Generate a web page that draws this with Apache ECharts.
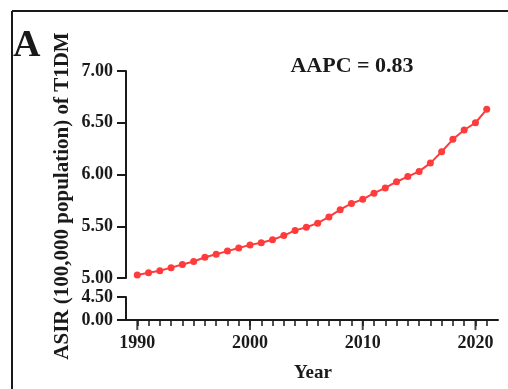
<!DOCTYPE html>
<html>
<head>
<meta charset="utf-8">
<script src="https://cdn.jsdelivr.net/npm/echarts@6/dist/echarts.min.js"></script>
<style>
  html, body { margin: 0; padding: 0; background: #fff; }
  #chart { width: 508px; height: 389px; }
</style>
</head>
<body>
<div id="chart"></div>
<script>
// Age-standardised incidence rate of T1DM, 1990–2021
const years = [1990, 1991, 1992, 1993, 1994, 1995, 1996, 1997, 1998, 1999,
               2000, 2001, 2002, 2003, 2004, 2005, 2006, 2007, 2008, 2009,
               2010, 2011, 2012, 2013, 2014, 2015, 2016, 2017, 2018, 2019,
               2020, 2021];
const asir = [5.03, 5.05, 5.07, 5.10, 5.13, 5.16, 5.20, 5.23, 5.26, 5.29,
              5.32, 5.34, 5.37, 5.41, 5.46, 5.49, 5.53, 5.59, 5.66, 5.72,
              5.76, 5.82, 5.87, 5.93, 5.98, 6.03, 6.11, 6.22, 6.34, 6.43,
              6.50, 6.63];
const decadeTicks = [1990, 2000, 2010, 2020];
const panelLabel = 'A';
const aapcText = 'AAPC = 0.83';
const yTitle = 'ASIR (100,000 population) of T1DM';
const xTitle = 'Year';

const serif = '"Liberation Serif", "Times New Roman", serif';
const ink = '#1a1a1a';
const red = '#ff3b3b';

const chart = echarts.init(document.getElementById('chart'), null, { renderer: 'canvas' });

const axisLineStyle = { show: true, lineStyle: { color: ink, width: 2 } };
const labelStyle = { color: ink, fontFamily: serif, fontWeight: 'bold', fontSize: 18 };

chart.setOption({
  animation: false,
  backgroundColor: '#fff',
  grid: [
    { left: 126, top: 71, width: 372, height: 207 },
    { left: 126, top: 297, width: 372, height: 23 }
  ],
  xAxis: [
    { gridIndex: 0, type: 'value', min: 1989, max: 2022, show: false },
    { // yearly minor ticks
      gridIndex: 1, type: 'value', min: 1989, max: 2022, position: 'bottom',
      axisLine: axisLineStyle,
      axisTick: { show: true, length: 6, customValues: years, lineStyle: { color: ink, width: 1.5 } },
      axisLabel: Object.assign({ customValues: decadeTicks, margin: 14, formatter: v => String(v) }, labelStyle),
      splitLine: { show: false }
    }
  ],
  yAxis: [
    {
      gridIndex: 0, type: 'value', min: 5, max: 7, interval: 0.5,
      axisLine: axisLineStyle,
      axisTick: { show: true, length: 9, lineStyle: { color: ink, width: 2 } },
      axisLabel: Object.assign({ margin: 13, formatter: v => v.toFixed(2) }, labelStyle),
      splitLine: { show: false }
    },
    {
      gridIndex: 1, type: 'value', min: 0, max: 4.5, interval: 4.5,
      axisLine: axisLineStyle,
      axisTick: { show: true, length: 9, lineStyle: { color: ink, width: 2 } },
      axisLabel: Object.assign({ margin: 13, formatter: v => v.toFixed(2) }, labelStyle),
      splitLine: { show: false }
    }
  ],
  series: [
    {
      type: 'line',
      xAxisIndex: 0, yAxisIndex: 0,
      data: years.map((y, i) => [y, asir[i]]),
      symbol: 'circle',
      symbolSize: 7,
      lineStyle: { color: red, width: 2 },
      itemStyle: { color: red },
      z: 5
    },
    { // longer decade ticks on the year axis
      type: 'scatter',
      xAxisIndex: 1, yAxisIndex: 1,
      data: decadeTicks.map(y => [y, 0]),
      symbol: 'rect',
      symbolSize: [2, 10],
      symbolOffset: [0, 5],
      itemStyle: { color: ink },
      silent: true,
      clip: false
    }
  ],
  graphic: [
    { type: 'line', shape: { x1: 12, y1: 11, x2: 508, y2: 11 }, style: { stroke: ink, lineWidth: 2 } },
    { type: 'line', shape: { x1: 12, y1: 11, x2: 12, y2: 389 }, style: { stroke: ink, lineWidth: 2 } },
    { type: 'text', left: 13, top: 27, style: { text: panelLabel, fill: ink, font: 'bold 38px ' + serif } },
    { type: 'text', x: 352, y: 66, style: { text: aapcText, fill: ink, font: 'bold 22px ' + serif, textAlign: 'center', textVerticalAlign: 'middle' } },
    { type: 'text', x: 313, y: 373, style: { text: xTitle, fill: ink, font: 'bold 19px ' + serif, textAlign: 'center', textVerticalAlign: 'middle' } },
    { type: 'text', x: 63, y: 196, rotation: Math.PI / 2, style: { text: yTitle, fill: ink, font: 'bold 21px ' + serif, textAlign: 'center', textVerticalAlign: 'middle' } }
  ]
});
</script>
</body>
</html>
